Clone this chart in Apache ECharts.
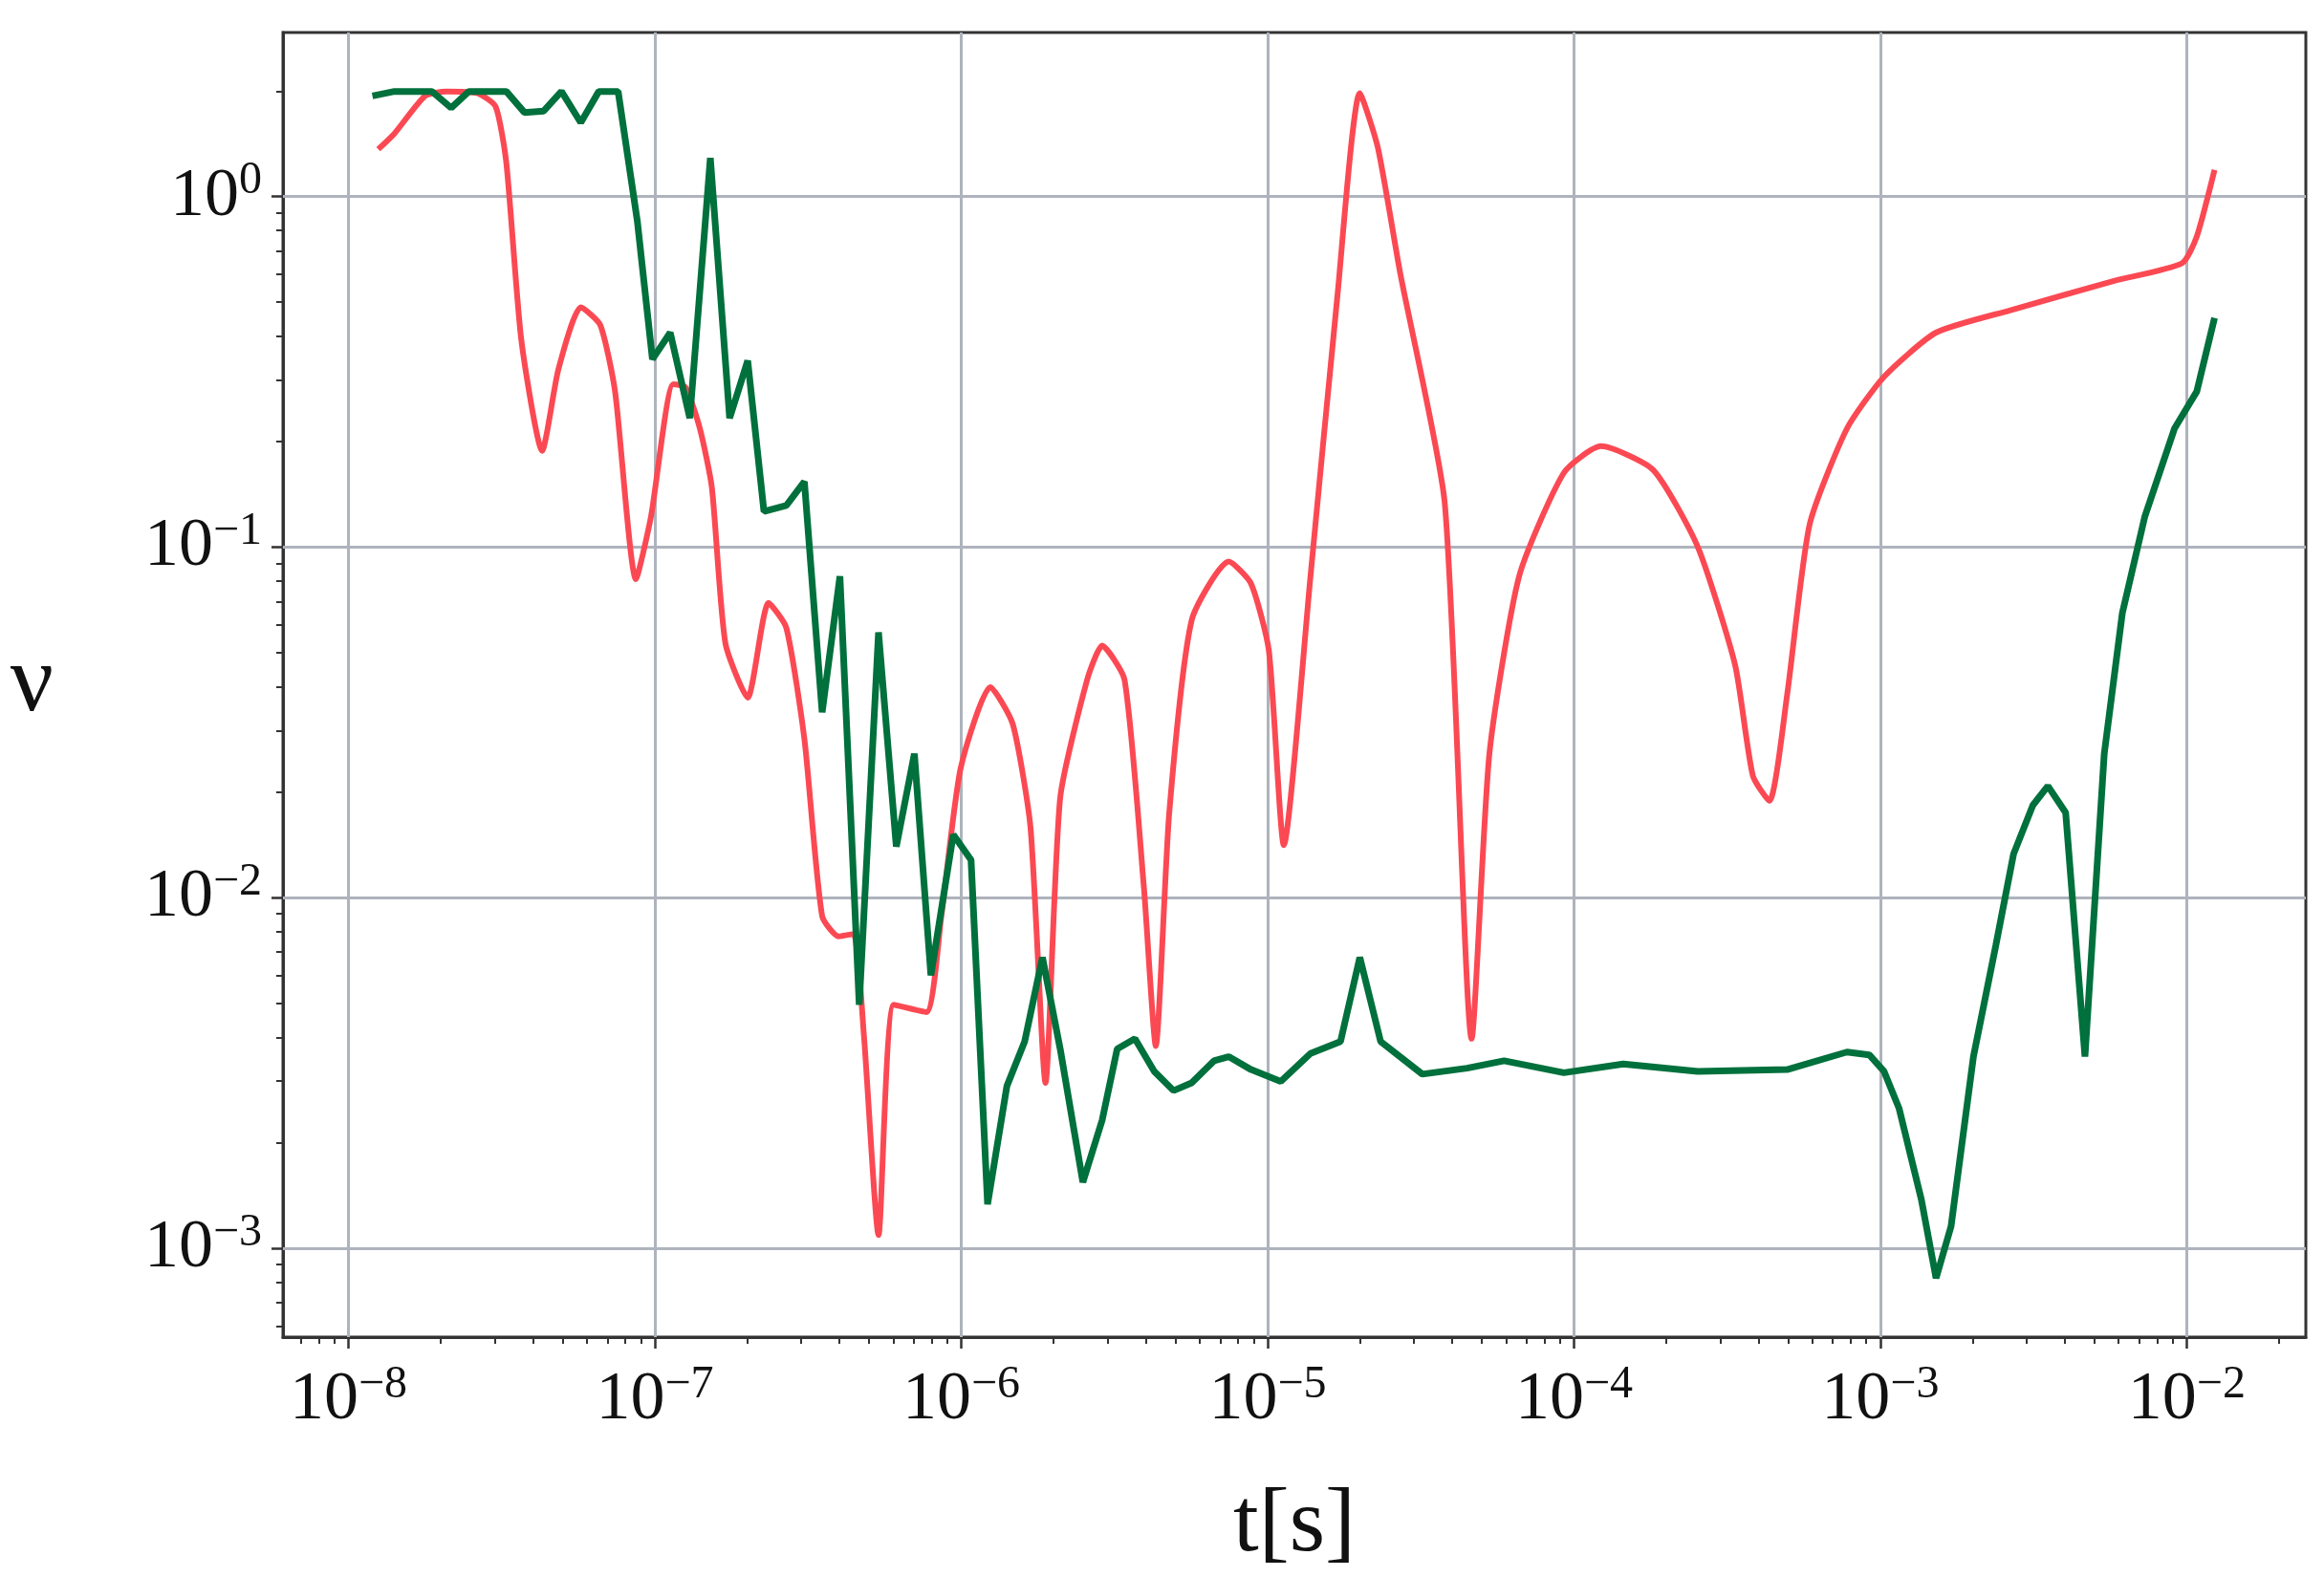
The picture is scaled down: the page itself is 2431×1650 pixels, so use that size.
<!DOCTYPE html>
<html><head><meta charset="utf-8">
<script src="https://cdn.jsdelivr.net/npm/echarts@6/dist/echarts.min.js"></script>
<style>html,body{margin:0;background:#fff}#c{width:2431px;height:1650px}</style>
</head><body><div id="c"></div>
<script>
// values are log10 exponents
var redT = [-7.903,-7.85,-7.75,-7.68,-7.58,-7.52,-7.485,-7.436,-7.368,-7.315,-7.242,-7.178,-7.13,-7.062,-7.013,-6.94,-6.90,-6.853,-6.814,-6.77,-6.697,-6.629,-6.571,-6.512,-6.454,-6.40,-6.352,-6.318,-6.27,-6.22,-6.114,-6.065,-6.002,-5.905,-5.832,-5.774,-5.725,-5.677,-5.589,-5.54,-5.467,-5.404,-5.365,-5.321,-5.248,-5.127,-5.054,-4.996,-4.947,-4.86,-4.772,-4.699,-4.64,-4.567,-4.422,-4.334,-4.276,-4.179,-4.033,-3.912,-3.741,-3.596,-3.474,-3.416,-3.362,-3.304,-3.231,-3.109,-2.988,-2.818,-2.575,-2.234,-2.015,-1.967,-1.909];
var redV = [0.135,0.18,0.287,0.30,0.295,0.257,0.097,-0.409,-0.725,-0.493,-0.316,-0.367,-0.556,-1.091,-0.914,-0.535,-0.544,-0.662,-0.83,-1.273,-1.429,-1.159,-1.23,-1.547,-2.052,-2.11,-2.103,-2.389,-2.962,-2.305,-2.326,-2.052,-1.631,-1.399,-1.504,-1.799,-2.528,-1.715,-1.378,-1.281,-1.378,-1.968,-2.423,-1.757,-1.209,-1.041,-1.104,-1.294,-1.85,-1.083,-0.282,0.295,0.139,-0.219,-0.872,-2.402,-1.589,-1.083,-0.788,-0.712,-0.78,-0.999,-1.336,-1.652,-1.724,-1.42,-0.936,-0.662,-0.514,-0.388,-0.324,-0.24,-0.19,-0.114,0.076];
var greenT = [-7.922,-7.85,-7.728,-7.665,-7.607,-7.485,-7.426,-7.363,-7.305,-7.242,-7.183,-7.12,-7.057,-7.008,-6.95,-6.886,-6.819,-6.756,-6.697,-6.644,-6.571,-6.512,-6.454,-6.396,-6.333,-6.27,-6.212,-6.153,-6.099,-6.026,-5.968,-5.914,-5.851,-5.793,-5.735,-5.677,-5.603,-5.54,-5.491,-5.433,-5.37,-5.307,-5.248,-5.175,-5.127,-5.054,-4.957,-4.86,-4.762,-4.699,-4.631,-4.495,-4.349,-4.228,-4.033,-3.839,-3.596,-3.304,-3.109,-3.036,-2.988,-2.939,-2.866,-2.818,-2.769,-2.696,-2.623,-2.565,-2.502,-2.453,-2.395,-2.332,-2.269,-2.21,-2.137,-2.04,-1.967,-1.909];
var greenV = [0.287,0.30,0.30,0.253,0.30,0.30,0.24,0.244,0.30,0.211,0.30,0.30,-0.072,-0.464,-0.388,-0.632,0.11,-0.632,-0.468,-0.898,-0.881,-0.813,-1.471,-1.083,-2.305,-1.243,-1.854,-1.589,-2.221,-1.82,-1.892,-2.874,-2.537,-2.41,-2.17,-2.431,-2.811,-2.634,-2.431,-2.402,-2.495,-2.55,-2.528,-2.465,-2.453,-2.49,-2.524,-2.444,-2.41,-2.17,-2.41,-2.503,-2.486,-2.465,-2.499,-2.474,-2.495,-2.49,-2.44,-2.448,-2.495,-2.6,-2.861,-3.085,-2.937,-2.453,-2.136,-1.875,-1.736,-1.681,-1.757,-2.453,-1.589,-1.188,-0.914,-0.662,-0.556,-0.346];
var xTicks = [-8, -7, -6, -5, -4, -3, -2];
var yTicks = [-3, -2, -1, 0];

function pairs(a, b) { return a.map(function (v, i) { return [v, b[i]]; }); }
function powLabel(v) {
  var e = Math.round(v);
  return '{b|10}{s|' + (e < 0 ? '\u2212' + (-e) : e) + '}';
}
// minor ticks of a log axis: log10(k * 10^e)
function minors(lo, hi) {
  var out = [];
  for (var e = Math.floor(lo); e <= Math.ceil(hi); e++)
    for (var k = 2; k <= 9; k++) { var v = e + Math.log10(k); if (v > lo && v < hi) out.push(v); }
  return out;
}
var font = 'Liberation Serif';
var rich = { b: { fontSize: 72, fontFamily: font, color: '#111' }, s: { fontSize: 48, fontFamily: font, color: '#111', padding: [0, 0, 32, 0] } };
var gridStyle = { color: '#aeb3bd', width: 3, type: 'solid' };
var X0 = -8.214, X1 = -1.611, Y0 = -3.253, Y1 = 0.468;

var chart = echarts.init(document.getElementById('c'));
chart.setOption({
  animation: false,
  grid: { left: 296, right: 19, top: 34, bottom: 240, show: true, borderColor: '#333', borderWidth: 3 },
  xAxis: [{
    type: 'value', min: X0, max: X1,
    name: 't[s]', nameLocation: 'middle', nameGap: 150,
    nameTextStyle: { fontSize: 96, fontFamily: font, color: '#111' },
    axisLine: { onZero: false, lineStyle: { color: '#333', width: 3 } },
    axisTick: { show: true, length: 12, customValues: xTicks, lineStyle: { color: '#333', width: 2.5 } },
    axisLabel: { formatter: powLabel, rich: rich, margin: 26, customValues: xTicks },
    splitLine: { show: false }
  }, {
    type: 'value', min: X0, max: X1, position: 'bottom',
    axisLine: { show: false, onZero: false }, axisLabel: { show: false }, splitLine: { show: false },
    axisTick: { show: true, length: 7, customValues: minors(X0, X1), lineStyle: { color: '#333', width: 2 } }
  }],
  yAxis: [{
    type: 'value', min: Y0, max: Y1,
    name: 'ν', nameLocation: 'middle', nameGap: 240, nameRotate: 0,
    nameTextStyle: { fontSize: 100, fontFamily: font, color: '#111' },
    axisLine: { show: true, onZero: false, lineStyle: { color: '#333', width: 3 } },
    axisTick: { show: true, length: 12, customValues: yTicks, lineStyle: { color: '#333', width: 2.5 } },
    axisLabel: { formatter: powLabel, rich: rich, margin: 22, customValues: yTicks },
    splitLine: { show: false }
  }, {
    type: 'value', min: Y0, max: Y1, position: 'left',
    axisLine: { show: false, onZero: false }, axisLabel: { show: false }, splitLine: { show: false },
    axisTick: { show: true, length: 7, customValues: minors(Y0, Y1), lineStyle: { color: '#333', width: 2 } }
  }],
  series: [
    { type: 'line', data: pairs(redT, redV), showSymbol: false, smooth: 0.2, lineStyle: { color: '#fb4953', width: 6 }, z: 2,
      markLine: { silent: true, symbol: 'none', label: { show: false }, lineStyle: gridStyle, z: 1,
        data: xTicks.map(function (v) { return { xAxis: v }; }).concat(yTicks.map(function (v) { return { yAxis: v }; })) } },
    { type: 'line', data: pairs(greenT, greenV), showSymbol: false, lineStyle: { color: '#00703c', width: 7 }, z: 3 }
  ]
});
</script></body></html>
